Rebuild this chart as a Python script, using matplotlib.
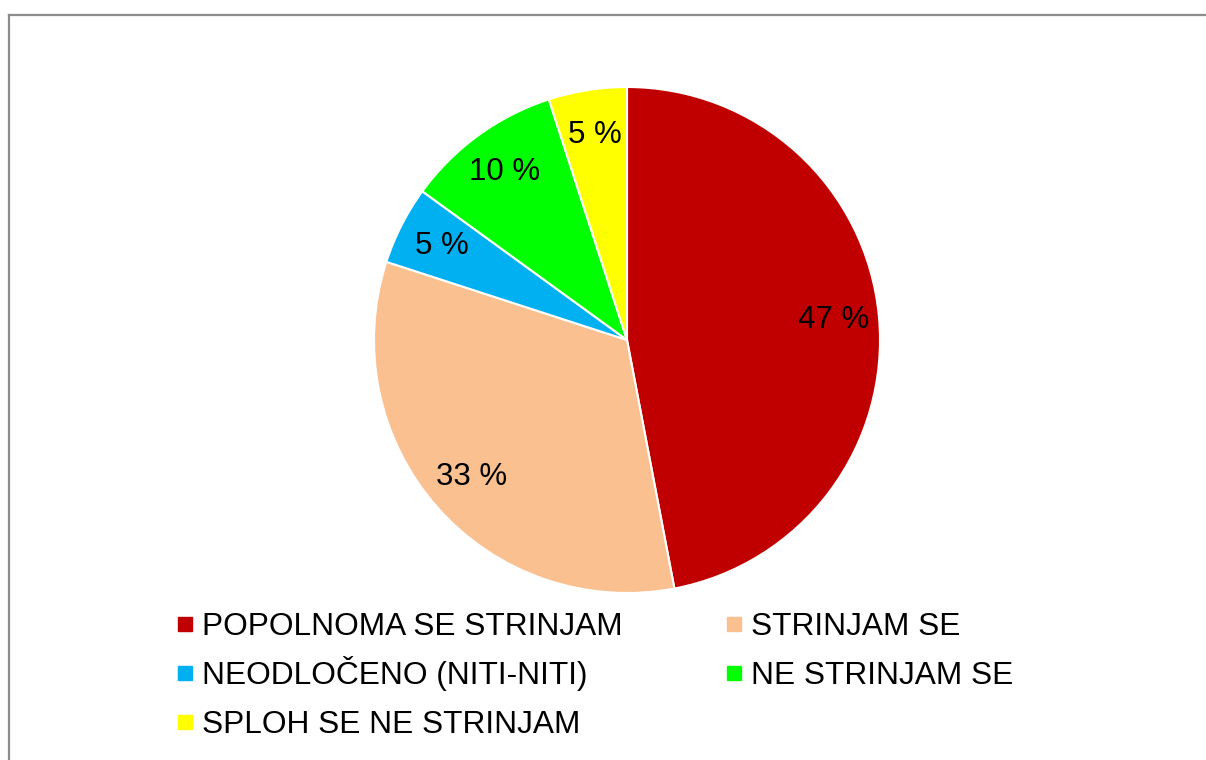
import matplotlib
matplotlib.use("Agg")
import matplotlib.pyplot as plt
from matplotlib.lines import Line2D

plt.rcParams['font.family'] = ['Liberation Sans', 'DejaVu Sans']

categories = ["POPOLNOMA SE STRINJAM", "STRINJAM SE", "NEODLOČENO (NITI-NITI)",
              "NE STRINJAM SE", "SPLOH SE NE STRINJAM"]
values = [47, 33, 5, 10, 5]
colors = ["#C00000", "#FAC090", "#00B0F0", "#00FF00", "#FFFF00"]

W, H = 1206, 760
fig = plt.figure(figsize=(W / 100, H / 100), dpi=100)
fig.patch.set_facecolor("white")

cx, cy, r = 627, 340, 253
ax = fig.add_axes([(cx - r) / W, (H - cy - r) / H, 2 * r / W, 2 * r / H])
wedges, texts, autotexts = ax.pie(
    values, colors=colors, startangle=90, counterclock=False,
    autopct=lambda p: f"{p:.0f} %", pctdistance=0.82,
    wedgeprops=dict(edgecolor="white", linewidth=1.5),
    textprops=dict(fontsize=22.5, color="black"))
ax.set_xlim(-1, 1)
ax.set_ylim(-1, 1)
ax.set_aspect("equal")
ax.axis("off")

# legend: 2 columns, filled row by row, rows aligned on baselines
col_x = [177, 726]
row_bottom = [642, 691, 740]
for i, (lab, c) in enumerate(zip(categories, colors)):
    row, col = divmod(i, 2)
    h = Line2D([], [], marker="s", linestyle="none", markersize=10,
               markerfacecolor=c, markeredgecolor=c)
    fig.legend([h], [lab], loc="lower left",
               bbox_to_anchor=(col_x[col] / W, 1 - row_bottom[row] / H),
               frameon=False, fontsize=22.8, handlelength=0.5,
               handletextpad=0.28, borderpad=0, borderaxespad=0)

# chart border (top and left visible)
fig.add_artist(Line2D([9 / W, 1], [1 - 15 / H, 1 - 15 / H], color="#8c8c8c", lw=1.6))
fig.add_artist(Line2D([9 / W, 9 / W], [1 - 15 / H, 0], color="#8c8c8c", lw=1.6))

fig.savefig("out.png", dpi=100)
